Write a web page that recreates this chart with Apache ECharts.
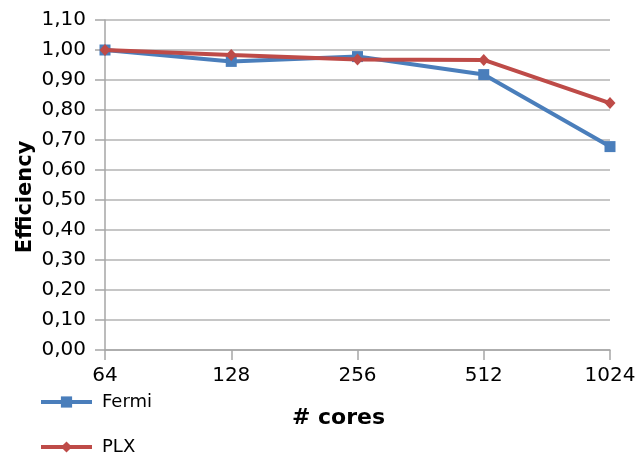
<!DOCTYPE html>
<html><head><meta charset="utf-8">
<script src="https://cdn.jsdelivr.net/npm/echarts@6/dist/echarts.min.js"></script>
<style>html,body{margin:0;padding:0;background:#fff}#c{width:639px;height:456px}</style>
</head><body><div id="c"></div>
<script>
const categories = ['64','128','256','512','1024'];
const fermi = [1.00, 0.962, 0.978, 0.918, 0.678];
const plx = [1.00, 0.983, 0.968, 0.967, 0.823];
const FONT = 'DejaVu Sans';
const legendText = {fontFamily:FONT,fontSize:18,color:'#000',lineHeight:18,padding:[0,0,0,5]};
const chart = echarts.init(document.getElementById('c'));
chart.setOption({
  animation:false,
  backgroundColor:'#fff',
  grid:{left:105,right:29,top:20,bottom:106,containLabel:false,outerBoundsMode:'none'},
  legend:[
    {left:39,top:393,padding:0,itemWidth:51,itemHeight:14,textStyle:legendText,lineStyle:{width:4},data:['Fermi']},
    {left:39,top:438,padding:0,itemWidth:51,itemHeight:14,textStyle:legendText,lineStyle:{width:4},data:['PLX']}
  ],
  xAxis:{
    type:'category',data:categories,boundaryGap:false,
    name:'# cores',nameLocation:'middle',nameGap:57,nameMoveOverlap:false,
    nameTextStyle:{fontFamily:FONT,fontSize:22,fontWeight:'bold',color:'#000',padding:[0,38,0,0]},
    axisLine:{lineStyle:{color:'#a6a6a6',width:1.5}},
    axisTick:{show:true,length:10,lineStyle:{color:'#a6a6a6',width:1.5}},
    axisLabel:{fontFamily:FONT,fontSize:20,color:'#000',margin:16},
    splitLine:{show:false}
  },
  yAxis:{
    type:'value',min:0,max:1.1,interval:0.1,
    name:'Efficiency',nameLocation:'middle',nameGap:69,nameRotate:90,nameMoveOverlap:false,
    nameTextStyle:{fontFamily:FONT,fontSize:21,fontWeight:'bold',color:'#000',padding:[0,24,0,0]},
    axisLine:{show:true,lineStyle:{color:'#a6a6a6',width:1.5}},
    axisTick:{show:true,length:10,lineStyle:{color:'#a6a6a6',width:1.5}},
    axisLabel:{fontFamily:FONT,fontSize:20,color:'#000',margin:19,formatter:v=>v.toFixed(2).replace('.',',')},
    splitLine:{lineStyle:{color:'#b3b3b3',width:1.5}}
  },
  series:[
    {name:'Fermi',type:'line',data:fermi,color:'#4a7ebb',lineStyle:{width:4,color:'#4a7ebb'},symbol:'rect',symbolSize:11,itemStyle:{color:'#4a7ebb'},z:2},
    {name:'PLX',type:'line',data:plx,color:'#be4b48',lineStyle:{width:4,color:'#be4b48'},symbol:'diamond',symbolSize:[11,12],itemStyle:{color:'#be4b48'},z:3}
  ]
});
</script></body></html>
